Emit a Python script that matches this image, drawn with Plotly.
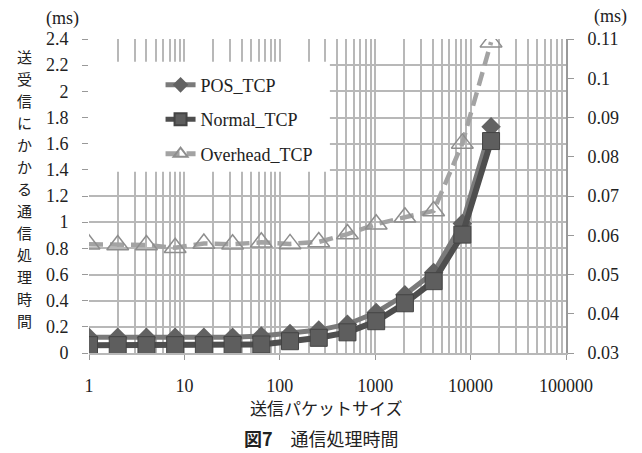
import plotly.graph_objects as go

# ---- data ----
packet_size = [1, 2, 4, 8, 16, 32, 64, 128, 256, 512, 1024, 2048, 4096, 8192, 16384]
pos_tcp = [0.12, 0.12, 0.12, 0.12, 0.12, 0.12, 0.13, 0.15, 0.175, 0.22, 0.31, 0.445, 0.615, 0.99, 1.73]
normal_tcp = [0.06, 0.06, 0.06, 0.06, 0.06, 0.062, 0.065, 0.09, 0.116, 0.158, 0.243, 0.38, 0.549, 0.905, 1.62]
overhead_tcp = [0.0577, 0.0575, 0.0575, 0.0568, 0.0579, 0.0577, 0.0582, 0.0578, 0.0583,
                0.0603, 0.0628, 0.0646, 0.0662, 0.0834, 0.1092]

x_major = [1, 10, 100, 1000, 10000, 100000]
x_major_text = ["1", "10", "100", "1000", "10000", "100000"]
x_minor = [d * 10 ** k for k in range(5) for d in range(2, 10)]
y_left_ticks = [0, 0.2, 0.4, 0.6, 0.8, 1, 1.2, 1.4, 1.6, 1.8, 2, 2.2, 2.4]
y_right_ticks = [0.03, 0.04, 0.05, 0.06, 0.07, 0.08, 0.09, 0.1, 0.11]

y_title = "送受信にかかる通信処理時間"
x_title = "送信パケットサイズ"
caption = "<b>図7</b>　通信処理時間"

SERIF = "Liberation Serif"
JP = "Noto Sans CJK JP"
GRID = "#b8b8b8"
TXT = "#222222"

fig = go.Figure()
fig.add_trace(go.Scatter(
    x=packet_size, y=pos_tcp, name="POS_TCP", mode="lines+markers",
    line=dict(color="#7a7a7a", width=5),
    marker=dict(symbol="diamond", size=15, color="#626262"),
    legendgroup="a"))
fig.add_trace(go.Scatter(
    x=packet_size, y=normal_tcp, name="Normal_TCP", mode="lines+markers",
    line=dict(color="#4e4e4e", width=6),
    marker=dict(symbol="square", size=17, color="#5e5e5e", line=dict(color="#444444", width=1)),
    legendgroup="b"))
fig.add_trace(go.Scatter(
    x=packet_size, y=overhead_tcp, name="Overhead_TCP", mode="lines+markers", yaxis="y2",
    line=dict(color="#a3a3a3", width=4.5, dash="14px,7px"),
    marker=dict(symbol="triangle-up-open", size=19, color="#8e8e8e", line=dict(width=1.5)),
    legendgroup="c"))

# vertical (tategaki) y-axis title: one character per line
title_top, title_bottom = 57, 320
step = (title_bottom - title_top) / (len(y_title) - 1)
title_annots = [
    dict(text=ch, xref="paper", yref="paper",
         x=(24 - 89) / 477, y=(352.7 - (title_top + i * step)) / 313.4,
         showarrow=False, xanchor="center", yanchor="middle", borderpad=0,
         font=dict(family=JP, size=15, color=TXT))
    for i, ch in enumerate(y_title)
]

fig.update_layout(
    width=642, height=453,
    margin=dict(l=89, r=76, t=39, b=100),
    paper_bgcolor="white", plot_bgcolor="white",
    font=dict(family=SERIF, size=18, color=TXT),
    showlegend=True,
    legend=dict(x=0.15, y=0.912, xanchor="left", yanchor="top", itemsizing="constant",
                bgcolor="rgba(0,0,0,0)", font=dict(family=SERIF, size=18, color=TXT),
                tracegroupgap=8, traceorder="grouped"),
    xaxis=dict(type="log", range=[0, 5],
               tickmode="array", tickvals=x_major, ticktext=x_major_text,
               showgrid=True, gridcolor=GRID, gridwidth=2,
               ticks="outside", ticklen=5, tickcolor="#999999", ticklabelstandoff=10,
               showline=True, linecolor=GRID, linewidth=2, zeroline=False,
               minor=dict(tickmode="array", tickvals=x_minor, showgrid=True,
                          gridcolor=GRID, gridwidth=2, ticks="")),
    yaxis=dict(range=[0, 2.4], tickmode="array", tickvals=y_left_ticks,
               ticktext=[f"{v:g}" for v in y_left_ticks],
               showgrid=True, gridcolor=GRID, gridwidth=2, zeroline=False,
               ticks="outside", ticklen=6, tickcolor="#999999", ticklabelstandoff=10,
               showline=False),
    yaxis2=dict(range=[0.03, 0.11], overlaying="y", side="right",
                tickmode="array", tickvals=y_right_ticks,
                ticktext=[f"{v:g}" for v in y_right_ticks],
                showgrid=False, zeroline=False,
                ticks="outside", ticklen=6, tickcolor="#999999", ticklabelstandoff=10,
                showline=True, linecolor="#999999", linewidth=2),
    shapes=[dict(type="rect", xref="x", yref="y",
                 x0=1, x1=10 ** 2.525, y0=1.385, y1=2.227, layer="between",
                 fillcolor="white", line=dict(width=0))],
    annotations=title_annots + [
        dict(text="(ms)", xref="paper", yref="paper", x=(62 - 89) / 477, y=(352.7 - 19) / 313.4,
             showarrow=False, xanchor="center", yanchor="middle",
             font=dict(family=SERIF, size=18, color=TXT)),
        dict(text="(ms)", xref="paper", yref="paper", x=(610 - 89) / 477, y=(352.7 - 17) / 313.4,
             showarrow=False, xanchor="center", yanchor="middle",
             font=dict(family=SERIF, size=18, color=TXT)),
        dict(text=x_title, xref="paper", yref="paper", x=(326 - 89) / 477, y=(352.7 - 407) / 313.4,
             showarrow=False, xanchor="center", yanchor="middle",
             font=dict(family=JP, size=17, color=TXT)),
        dict(text=caption, xref="paper", yref="paper", x=(321 - 89) / 477, y=(352.7 - 438) / 313.4,
             showarrow=False, xanchor="center", yanchor="middle",
             font=dict(family=JP, size=18, color=TXT)),
    ],
)

fig.write_html("out.html", config={"displayModeBar": False},
               post_script="document.body.style.margin='0';")
